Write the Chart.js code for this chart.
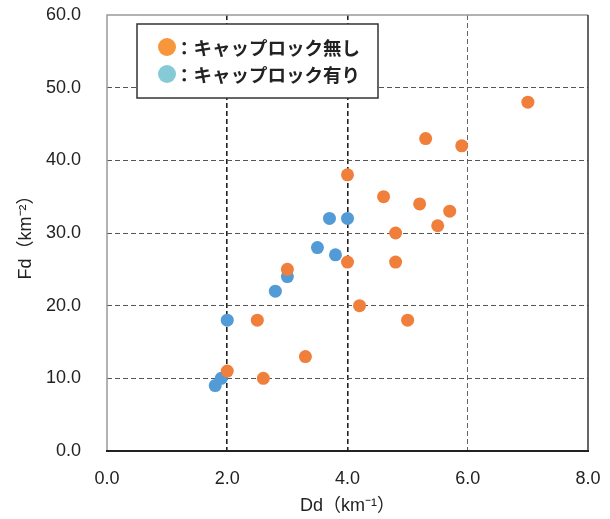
<!DOCTYPE html>
<html>
<head>
<meta charset="utf-8">
<script src="https://cdn.jsdelivr.net/npm/chart.js@4"></script>
<style>
html,body{margin:0;padding:0;background:#fff;}
#wrap{width:610px;height:519px;position:relative;}
</style>
</head>
<body>
<div id="wrap"><canvas id="c" width="610" height="519"></canvas></div>
<script>
// Data
const noCapX = [7.0, 5.3, 5.9, 4.0, 4.6, 5.2, 5.7, 5.5, 4.8, 4.0, 4.8, 3.0, 4.2, 2.5, 5.0, 3.3, 2.0, 2.6];
const noCapY = [48, 43, 42, 38, 35, 34, 33, 31, 30, 26, 26, 25, 20, 18, 18, 13, 11, 10];
const capX = [3.7, 4.0, 3.5, 3.8, 3.0, 2.8, 2.0, 1.9, 1.8];
const capY = [32, 32, 28, 27, 24, 22, 18, 10, 9];
const seriesNames = ['：キャップロック無し', '：キャップロック有り'];
const xTitle = 'Dd（km⁻¹）';
const yTitle = 'Fd（km⁻²）';

const toPts = (xs, ys) => xs.map((x, i) => ({x: x, y: ys[i]}));

const numFont = {family: "'Liberation Sans', Arial, sans-serif", size: 18};
const titleFont = {family: "'Liberation Sans', 'Noto Sans CJK JP', sans-serif", size: 18};

const framePlugin = {
  id: 'frame',
  afterDraw(chart) {
    const {ctx, chartArea: a} = chart;
    ctx.save();
    ctx.lineWidth = 1.5;
    ctx.strokeStyle = '#999';
    ctx.beginPath(); ctx.moveTo(a.left, a.bottom); ctx.lineTo(a.left, a.top); ctx.lineTo(a.right, a.top); ctx.stroke();
    ctx.strokeStyle = '#333';
    ctx.beginPath(); ctx.moveTo(a.right, a.top); ctx.lineTo(a.right, a.bottom); ctx.stroke();
    ctx.lineWidth = 2;
    ctx.strokeStyle = '#222';
    ctx.beginPath(); ctx.moveTo(a.left - 1, a.bottom); ctx.lineTo(a.right + 1, a.bottom); ctx.stroke();

    // legend box
    const bx = 137, by = 24, bw = 241, bh = 74;
    ctx.fillStyle = '#fff';
    ctx.fillRect(bx, by, bw, bh);
    ctx.lineWidth = 1.5;
    ctx.strokeStyle = '#333';
    ctx.strokeRect(bx, by, bw, bh);
    const items = [
      {c: '#f7963b', t: seriesNames[0], y: 47},
      {c: '#86cad8', t: seriesNames[1], y: 74}
    ];
    ctx.font = "bold 18.5px 'Noto Sans CJK JP', sans-serif";
    ctx.textBaseline = 'middle';
    ctx.textAlign = 'left';
    items.forEach(it => {
      ctx.fillStyle = it.c;
      ctx.beginPath(); ctx.arc(167, it.y, 9, 0, Math.PI * 2); ctx.fill();
      ctx.fillStyle = '#222';
      ctx.fillText(it.t, 175, it.y + 1);
    });
    ctx.restore();
  }
};

new Chart(document.getElementById('c'), {
  type: 'scatter',
  data: {
    datasets: [
      {label: seriesNames[0], data: toPts(noCapX, noCapY), backgroundColor: '#f07f3c', borderWidth: 0, pointRadius: 6.5, pointHoverRadius: 6.5},
      {label: seriesNames[1], data: toPts(capX, capY), backgroundColor: '#529bd6', borderWidth: 0, pointRadius: 6.5, pointHoverRadius: 6.5}
    ]
  },
  options: {
    responsive: false,
    animation: false,
    devicePixelRatio: 1,
    layout: {padding: {top: 15, right: 22, left: 0, bottom: 0}},
    plugins: {legend: {display: false}, tooltip: {enabled: false}},
    scales: {
      x: {
        type: 'linear', min: 0, max: 8,
        afterFit(s) { s.height = 68; s.paddingLeft = 0; s.paddingRight = 0; },
        grid: {
          drawTicks: false,
          color: ctx => (ctx.tick && (ctx.tick.value === 2 || ctx.tick.value === 4)) ? '#222' : (ctx.tick && ctx.tick.value === 6 ? '#666' : 'rgba(0,0,0,0)'),
          lineWidth: ctx => (ctx.tick && (ctx.tick.value === 2 || ctx.tick.value === 4)) ? 1.6 : 1,
        },
        border: {display: false, dash: [5, 3]},
        ticks: {stepSize: 2, padding: 17, color: '#222', font: numFont, callback: v => Number(v).toFixed(1)},
        title: {display: true, text: xTitle, color: '#222', font: titleFont, padding: {top: 0, bottom: 2}}
      },
      y: {
        type: 'linear', min: 0, max: 60,
        afterFit(s) { s.width = 107; s.paddingTop = 0; s.paddingBottom = 0; },
        grid: {
          drawTicks: false,
          color: ctx => (ctx.tick && ctx.tick.value > 0 && ctx.tick.value < 60) ? '#555' : 'rgba(0,0,0,0)',
          lineWidth: 1
        },
        border: {display: false, dash: [5, 3]},
        ticks: {stepSize: 10, padding: 26, color: '#222', font: numFont, callback: v => Number(v).toFixed(1)},
        title: {display: true, text: yTitle, color: '#222', font: titleFont, padding: {top: 15, bottom: 0}}
      }
    }
  },
  plugins: [framePlugin]
});
</script>
</body>
</html>
